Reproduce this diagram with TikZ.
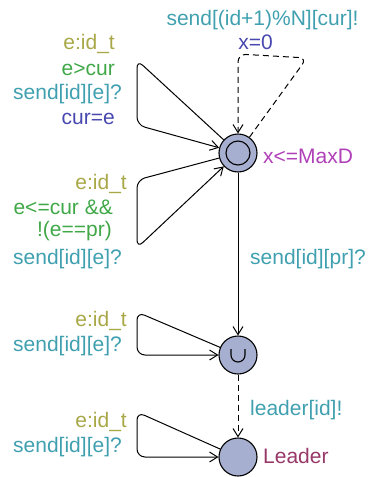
\documentclass[tikz,border=0pt]{standalone}
\usepackage{fontspec}
\setmainfont{Liberation Sans}
\usetikzlibrary{arrows.meta}
\definecolor{sel}{HTML}{A8A848}
\definecolor{grd}{HTML}{40A848}
\definecolor{syn}{HTML}{40A0B0}
\definecolor{upd}{HTML}{4848B0}
\definecolor{inv}{HTML}{B040B8}
\definecolor{nam}{HTML}{983868}
\definecolor{locfill}{HTML}{A6AFCF}
\begin{document}
\begin{tikzpicture}[x=1pt,y=-1pt,
  loc/.style={circle,draw,line width=1.1pt,fill=locfill,minimum size=38pt,inner sep=0pt},
  edge/.style={line width=1pt,-{Straight Barb[length=8pt,width=10pt]},rounded corners=8pt},
  dashededge/.style={edge,dash pattern=on 6pt off 4pt},
  lbl/.style={font=\fontsize{21}{25}\selectfont,inner sep=0pt,yshift=-3pt},
  lr/.style={lbl,anchor=mid east},
  ll/.style={lbl,anchor=mid west},
  lc/.style={lbl,anchor=mid}]
\useasboundingbox (0,0) rectangle (371,477);
\node[loc] (init) at (238,153) {};
\draw[line width=1.1pt] (init.center) circle[radius=12pt];
\node[loc] (urg) at (238,355) {};
\draw[line width=1.1pt] ([xshift=-7pt,yshift=6pt]urg.center) -- ++(0,6) arc[start angle=180,end angle=360,radius=7pt] -- ++(0,-6);
\node[loc] (lead) at (238,457) {};

\coordinate (a1) at (137,60);
\coordinate (a2) at (137,125);
\coordinate (b1) at (307,58);
\coordinate (b2) at (238,54);
\coordinate (c1) at (137,180);
\coordinate (c2) at (137,248);
\coordinate (d1) at (137,312);
\coordinate (d2) at (137,355);
\coordinate (e1) at (137,412);
\coordinate (e2) at (137,457);

\draw[edge] (init) -- (a1) -- (a2) -- (init);
\draw[dashededge] (init) -- (b1) -- (b2) -- (init);
\draw[edge] (init) -- (c1) -- (c2) -- (init);
\draw[edge] (init) -- (urg);
\draw[edge] (urg) -- (d1) -- (d2) -- (urg);
\draw[dashededge] (urg) -- (lead);
\draw[edge] (lead) -- (e1) -- (e2) -- (lead);

\node[lc,text=syn] (s1) at (262.5,20) {send[(id+1)\%N][cur]!};
\node[lc,text=upd] (u1) at (255.5,44) {x=0};
\node[lr,text=sel] (l1a) at (115,44) {e:id\_t};
\node[lr,text=grd] (l1b) at (115,70) {e>cur};
\node[lr,text=syn] (l1c) at (122,94) {send[id][e]?};
\node[lr,text=upd] (l1d) at (115,119) {cur=e};
\node[ll,text=inv] (iv) at (263,158) {x<=MaxD};
\node[lr,text=sel] (l2a) at (127,184) {e:id\_t};
\node[lr,text=grd] (l2b) at (113,209) {e<=cur \&\&};
\node[lr,text=grd] (l2c) at (112,231) {!(e==pr)};
\node[lr,text=syn] (l2d) at (122,259) {send[id][e]?};
\node[ll,text=syn] (l3) at (250,259) {send[id][pr]?};
\node[lr,text=sel] (l4a) at (127,321) {e:id\_t};
\node[lr,text=syn] (l4b) at (122,346) {send[id][e]?};
\node[ll,text=syn] (l5) at (250,410) {leader[id]!};
\node[lr,text=sel] (l6a) at (127,422) {e:id\_t};
\node[lr,text=syn] (l6b) at (122,447) {send[id][e]?};
\node[ll,text=nam] (nm) at (263,458) {Leader};
\end{tikzpicture}
\end{document}
